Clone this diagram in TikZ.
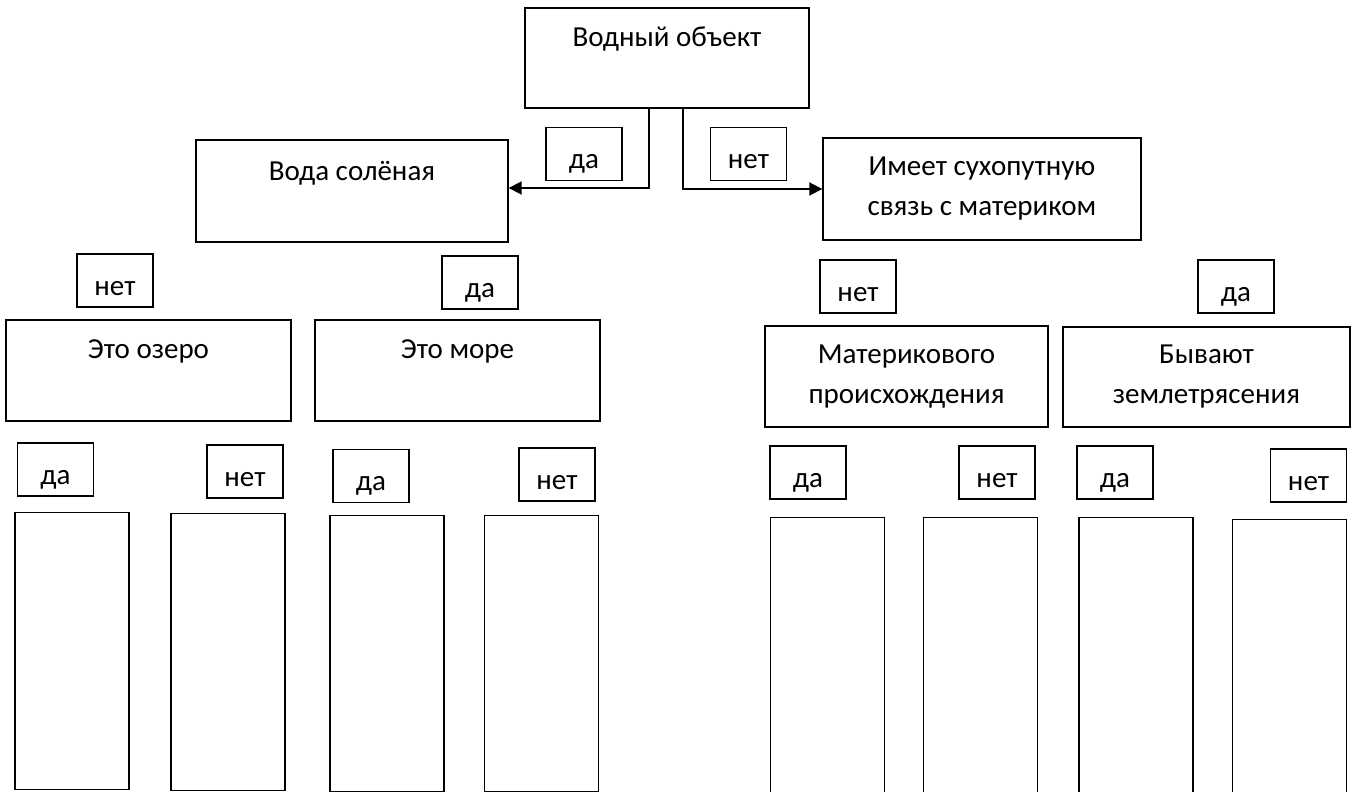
\documentclass[tikz,border=0pt]{standalone}
\usepackage{fontspec}
\setmainfont{Carlito}
\usetikzlibrary{arrows.meta}

\begin{document}
\begin{tikzpicture}[x=1pt, y=-1pt, every node/.style={font=\fontsize{29}{40}\selectfont}]
  \tikzset{>={Triangle[length=13pt,width=13pt]}}
  \tikzset{box/.style={draw, line width=1.4pt, inner sep=0pt, align=center}}
  \tikzset{lbl/.style={box, minimum width=76pt, text height=41pt, text depth=12pt}}
  \tikzset{slot/.style={draw, line width=1.4pt, inner sep=0pt, minimum width=114pt, anchor=north}}
  %
  \clip (0,0) rectangle (1354,792);
  \fill [white] (0,0) rectangle (1354,792);
  %
  \node [box, minimum width=284pt, text height=39pt, text depth=61pt] (obj) at (667,58) {Водный объект};
  \node [box, minimum width=312pt, text height=40pt, text depth=62pt] (salt) at (352,191) {Вода солёная};
  \node [box, minimum width=318pt, minimum height=102pt] (land) at (982,189) {Имеет сухопутную\\связь с материком};
  %
  \node [box, minimum width=285pt, text height=38pt, text depth=63pt] (lake) at (148.5,370.5) {Это озеро};
  \node [box, minimum width=285pt, text height=38pt, text depth=63pt] (sea) at (457.5,370.5) {Это море};
  \node [box, minimum width=283pt, minimum height=101pt] (cont) at (906.5,376.5) {Материкового\\происхождения};
  \node [box, minimum width=287pt, minimum height=100pt] (quake) at (1206.5,377) {Бывают\\землетрясения};
  %
  \draw [->, line width=1.9pt] ([xshift=-18pt]obj.south) |- ([yshift=3pt]salt.east);
  \draw [->, line width=1.9pt] ([xshift=16pt]obj.south) |- (land.west);
  %
  \foreach \x/\y/\t [count=\i] in {584/154/да, 748.5/154/нет,
      115/280.5/нет, 480/282.5/да, 858/286.5/нет, 1236/286.5/да,
      55.5/469.5/да, 245/471.5/нет, 371/476/да, 557/474.5/нет,
      808/472.5/да, 997/472.5/нет, 1115/472.5/да, 1308.5/475.5/нет} {
    \node [lbl] (l\i) at (\x,\y) {\t};
  }
  %
  \foreach \x/\top/\bot [count=\i] in {72/512/789, 228/513/790, 387/515/791, 541.5/515/791,
      827.5/517/800, 980.5/517/800, 1136/517/800, 1289.5/519/800} {
    \node [slot, minimum height={(\bot-\top)*1pt}] (s\i) at (\x,\top) {};
  }
\end{tikzpicture}
\end{document}
